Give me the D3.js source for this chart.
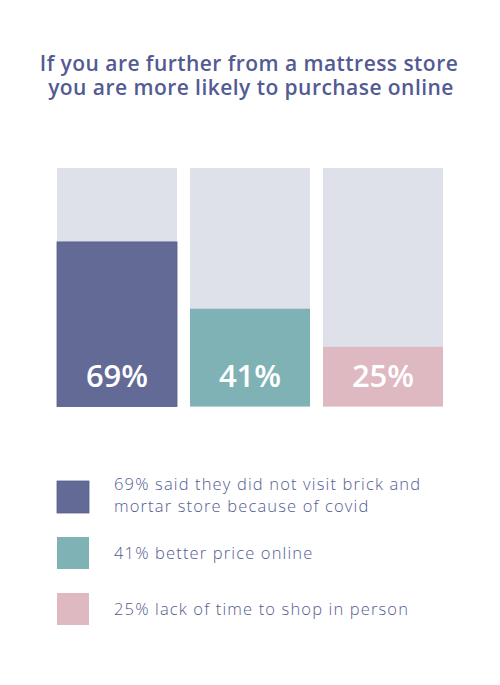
<!DOCTYPE html>
<html>
<head>
<meta charset="utf-8">
<script src="https://cdn.jsdelivr.net/npm/d3@7"></script>
<style>
  body { margin: 0; background: #fff; }
  svg { display: block; font-family: "Open Sans", "Noto Sans", sans-serif; }
</style>
</head>
<body>
<svg width="500" height="685"></svg>
<script>
// chart data
var categories = ['covid', 'price', 'time'];
var values = [69, 41, 25];
var labels = ['69% said they did not visit brick and|mortar store because of covid',
              '41% better price online',
              '25% lack of time to shop in person'];
var titleLines = ['If you are further from a mattress store', 'you are more likely to purchase online'];

var colors = ['#646a96', '#7fb2b5', '#dfb9c2'];
var bgColor = '#dfe1ea';
var textColor = '#535b92';

var svg = d3.select('svg');

// title, one text element with a tspan per line
var title = svg.append('text')
    .attr('class', 'title')
    .attr('text-anchor', 'middle')
    .attr('fill', textColor)
    .attr('font-size', 21)
    .attr('font-weight', 600)
    .attr('letter-spacing', 0.45);

title.selectAll('tspan')
    .data(titleLines)
    .enter()
    .append('tspan')
    .attr('x', function(d, i) { return i === 0 ? 249 : 251; })
    .attr('y', function(d, i) { return 71 + i * 24; })
    .text(function(d) { return d; });

// scales
var xScale = d3.scaleBand()
    .domain(categories)
    .range([57, 443])
    .paddingInner(0.0977)
    .paddingOuter(0);

var yScale = d3.scaleLinear()
    .domain([0, 100])
    .range([406.5, 168]);

var bars = svg.selectAll('.bar')
    .data(categories)
    .enter()
    .append('g')
    .attr('class', 'bar');

// background (100%)
bars.append('rect')
    .attr('x', function(d) { return xScale(d); })
    .attr('y', yScale(100))
    .attr('width', xScale.bandwidth())
    .attr('height', yScale(0) - yScale(100))
    .attr('fill', bgColor);

// value bar
bars.append('rect')
    .attr('x', function(d) { return xScale(d); })
    .attr('y', function(d, i) { return yScale(values[i]); })
    .attr('width', xScale.bandwidth())
    .attr('height', function(d, i) { return yScale(0) - yScale(values[i]); })
    .attr('fill', function(d, i) { return colors[i]; })
    .attr('stroke', function(d, i) { return i === 0 ? '#585e8e' : 'none'; })
    .attr('stroke-width', 0.8);

bars.append('text')
    .attr('x', function(d) { return xScale(d) + xScale.bandwidth() / 2; })
    .attr('y', 387)
    .attr('text-anchor', 'middle')
    .attr('fill', '#fff')
    .attr('font-size', 31)
    .attr('font-weight', 600)
    .text(function(d, i) { return values[i] + '%'; });

// legend
var legendY = [481, 537, 593];
var legend = svg.selectAll('.legend')
    .data(categories)
    .enter()
    .append('g')
    .attr('class', 'legend')
    .attr('transform', function(d, i) { return 'translate(57,' + legendY[i] + ')'; });

legend.append('rect')
    .attr('width', 32)
    .attr('height', 32)
    .attr('fill', function(d, i) { return colors[i]; })
    .attr('stroke', function(d, i) { return i === 0 ? '#585e8e' : 'none'; })
    .attr('stroke-width', 0.8);

legend.each(function(d, i) {
    var lines = labels[i].split('|');
    var t = d3.select(this).append('text')
        .attr('fill', textColor)
        .attr('font-size', 16.5)
        .attr('font-weight', 300)
        .attr('letter-spacing', 1.15);
    lines.forEach(function(line, j) {
        t.append('tspan')
            .attr('x', 57)
            .attr('y', (lines.length > 1 ? 9 : 22) + j * 21.5)
            .text(line);
    });
});
</script>
</body>
</html>
